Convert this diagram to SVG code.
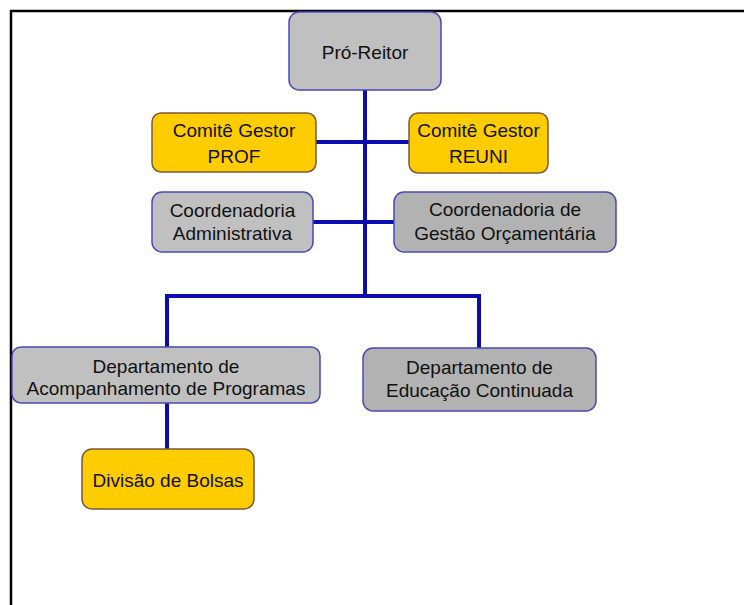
<svg xmlns="http://www.w3.org/2000/svg" width="744" height="605" viewBox="0 0 744 605">
<style>
  .g1 { fill: #c0c0c0; stroke: #4a4ab8; stroke-width: 1.5; }
  .g2 { fill: #b2b2b2; stroke: #4a4ab8; stroke-width: 1.5; }
  .y { fill: #ffcc00; stroke: #7a5a3a; stroke-width: 1.5; }
  text { font-family: "Liberation Sans", Arial, sans-serif; font-size: 19px; fill: #111111; text-anchor: middle; }
  .c { fill: none; stroke: #0c0cb0; stroke-width: 4; }
</style>
<rect x="0" y="0" width="744" height="605" fill="#ffffff"/>
<path d="M11,605 V11 H744" fill="none" stroke="#000000" stroke-width="2.5"/>
<g id="connectors">
  <path class="c" d="M365,90 V296"/>
  <path class="c" d="M316,142 H409"/>
  <path class="c" d="M313,222 H394"/>
  <path class="c" d="M167,348 V296 H479 V348"/>
  <path class="c" d="M167,403 V449"/>
</g>
<g id="pro-reitor">
  <rect class="g1" x="289" y="12" width="152" height="78" rx="10"/>
  <text x="365" y="59">Pró-Reitor</text>
</g>
<g id="comite-prof">
  <rect class="y" x="152" y="113" width="164" height="59" rx="9"/>
  <text x="234" y="137">Comitê Gestor</text>
  <text x="234" y="163">PROF</text>
</g>
<g id="comite-reuni">
  <rect class="y" x="409" y="113" width="139" height="60" rx="9"/>
  <text x="478.5" y="137">Comitê Gestor</text>
  <text x="478.5" y="163">REUNI</text>
</g>
<g id="coord-admin">
  <rect class="g1" x="152" y="192" width="161" height="60" rx="10"/>
  <text x="232.5" y="217">Coordenadoria</text>
  <text x="232.5" y="240">Administrativa</text>
</g>
<g id="coord-gestao">
  <rect class="g2" x="394" y="192" width="222" height="60" rx="10"/>
  <text x="505" y="216">Coordenadoria de</text>
  <text x="505" y="240">Gestão Orçamentária</text>
</g>
<g id="depto-acomp">
  <rect class="g1" x="12" y="347" width="308" height="56" rx="9"/>
  <text x="166" y="373">Departamento de</text>
  <text x="166" y="395">Acompanhamento de Programas</text>
</g>
<g id="depto-educacao">
  <rect class="g2" x="363" y="348" width="233" height="63" rx="10"/>
  <text x="479.5" y="374">Departamento de</text>
  <text x="479.5" y="397">Educação Continuada</text>
</g>
<g id="divisao-bolsas">
  <rect class="y" x="82" y="449" width="172" height="60" rx="10"/>
  <text x="168" y="487">Divisão de Bolsas</text>
</g>
</svg>
